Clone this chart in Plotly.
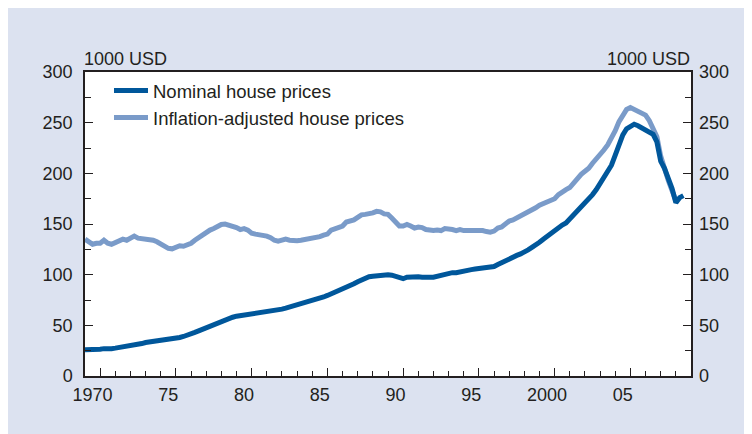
import plotly.graph_objects as go

# ---- data (quarterly, 1000 USD) ----
years = list(range(1970, 2010))
quarter_offsets = [0.0, 0.25, 0.5, 0.75]

nominal = [
    26, 26, 25.5, 26,          # 1970
    26.5, 27, 26.5, 27,        # 1971
    27.5, 28, 28.5, 29,        # 1972
    30, 30.5, 31.5, 32,        # 1973
    33, 33.5, 34, 34.5,        # 1974
    35, 35.5, 35.5, 36.5,      # 1975
    37.5, 38, 39, 40,          # 1976
    41.5, 43, 44.5, 46,        # 1977
    47.5, 49.5, 51, 53,        # 1978
    54.5, 55.5, 57, 58,        # 1979
    59, 59.5, 60.5, 61,        # 1980
    62, 62.5, 63, 63,          # 1981
    63.5, 64, 64.5, 65.5,      # 1982
    66, 67, 68, 69,            # 1983
    70, 71, 72, 73,            # 1984
    74, 75.5, 76.5, 78,        # 1985
    79.5, 81, 83, 85,          # 1986
    86, 87.5, 89.5, 91,        # 1987
    93, 95, 96.5, 98,          # 1988
    98.5, 99, 99.5, 99.5,      # 1989
    100, 99.5, 98, 96.5,       # 1990
    96, 97.5, 98, 98,          # 1991
    98, 97.5, 98, 97.5,        # 1992
    97.5, 98.5, 99.5, 100.5,   # 1993
    101.5, 102, 102, 103,      # 1994
    103, 104, 105, 105.5,      # 1995
    105.5, 106.5, 107, 107.5,  # 1996
    108, 110, 112, 113,        # 1997
    115, 117, 119, 120.5,      # 1998
    122, 124.5, 127, 129,      # 1999
    132, 135, 138, 140,        # 2000
    143, 146, 149, 151,        # 2001
    155, 159, 163, 167,        # 2002
    170, 174, 179, 184,        # 2003
    190, 196, 202, 208,        # 2004
    218, 229, 238, 244,        # 2005
    247, 248.5, 247, 245,      # 2006
    243.5, 241, 238.5, 231,    # 2007
    212, 205, 196, 185,        # 2008
    171, 176, 178,             # 2009
]

inflation_adjusted = [
    135, 133, 130, 131,        # 1970
    131, 134, 131, 130,        # 1971
    131.5, 133, 135, 134,      # 1972
    136, 138, 136, 135.5,      # 1973
    135.5, 135, 134, 132.5,    # 1974
    130.5, 128, 126, 125.5,    # 1975
    127, 128.5, 128, 129,      # 1976
    131, 134, 136.5, 139.5,    # 1977
    141.5, 144, 145.5, 147.5,  # 1978
    149.5, 150, 149, 148,      # 1979
    146.5, 144.5, 145.5, 144,  # 1980
    141, 140, 139.5, 138.5,    # 1981
    138, 136.5, 134, 133,      # 1982
    134.5, 135, 134, 133.5,    # 1983
    133.5, 134, 134.5, 135,    # 1984
    135.5, 136.5, 137.5, 139,  # 1985
    140, 144, 145.5, 147,      # 1986
    148, 152, 153, 154,        # 1987
    156.5, 159, 159.5, 160,    # 1988
    161, 162.5, 162, 160,      # 1989
    159.5, 156, 152, 148,      # 1990
    148, 149.5, 148, 146,      # 1991
    147, 146.5, 144.5, 143.5,  # 1992
    143.5, 144, 143.5, 145.5,  # 1993
    145.5, 144.5, 143.5, 144.5,  # 1994
    143.5, 143.5, 144.5, 144,  # 1995
    144, 143.5, 142.5, 142,    # 1996
    143, 146, 147, 150,        # 1997
    153, 154, 156, 157.5,      # 1998
    159, 162, 163, 166,        # 1999
    168.5, 170, 172, 173.5,    # 2000
    175, 179, 182, 184,        # 2001
    186, 191, 195, 199,        # 2002
    202, 205, 210, 214,        # 2003
    218, 223, 228, 234,        # 2004
    242, 251, 258, 263,        # 2005
    265, 263, 261.5, 259,      # 2006
    257.5, 252, 244, 236,      # 2007
    217, 204, 193, 183,        # 2008
    173,                       # 2009
]

quarters = [y + q for y in years for q in quarter_offsets]

y_tick_values = [0, 50, 100, 150, 200, 250, 300]
x_label_positions = [1970.5, 1975.5, 1980.5, 1985.5, 1990.5, 1995.5, 2000.5, 2005.5]
x_label_text = ["1970", "75", "80", "85", "90", "95", "2000", "05"]
x_major_ticks = [1971, 1976, 1981, 1986, 1991, 1996, 2001, 2006]
x_minor_ticks = list(range(1971, 2010))
unit_label = "1000 USD"

# ---- styles ----
FONT = "Liberation Sans, Arial, sans-serif"
TXT = "#231f20"
AX = "#231f20"
PANEL = "#dce2f0"
DARK = "#00579b"
LIGHT = "#7a9bc9"
FS = 18

axis_font = dict(family=FONT, size=FS, color=TXT)

fig = go.Figure()
fig.add_trace(go.Scatter(
    x=quarters[:len(inflation_adjusted)], y=inflation_adjusted, mode="lines",
    name="Inflation-adjusted house prices", legendgroup="b", legendrank=2,
    line=dict(color=LIGHT, width=5)))
fig.add_trace(go.Scatter(
    x=quarters[:len(nominal)], y=nominal, mode="lines",
    name="Nominal house prices", legendgroup="a", legendrank=1,
    line=dict(color=DARK, width=5)))
# helper invisible traces for secondary axes
fig.add_trace(go.Scatter(x=[1970], y=[0], xaxis="x2", yaxis="y", mode="markers",
                         marker=dict(opacity=0), showlegend=False, hoverinfo="skip"))
fig.add_trace(go.Scatter(x=[1970], y=[0], xaxis="x", yaxis="y2", mode="markers",
                         marker=dict(opacity=0), showlegend=False, hoverinfo="skip"))

fig.update_layout(
    width=744, height=426,
    margin=dict(l=77, r=61, t=64, b=58),
    paper_bgcolor=PANEL, plot_bgcolor="white",
    font=dict(family=FONT, color=TXT, size=FS),
    showlegend=True,
    legend=dict(x=0.0396, y=1.0, xanchor="left", yanchor="top",
                bgcolor="rgba(0,0,0,0)", font=dict(family=FONT, size=18.5, color=TXT),
                traceorder="grouped", tracegroupgap=0, itemwidth=34),
    xaxis=dict(range=[1970, 2010], showgrid=False, zeroline=False,
               showline=True, linecolor=AX, linewidth=1.5, mirror=True,
               tickmode="array", tickvals=x_major_ticks, ticks="inside",
               ticklen=8, tickwidth=1.3, tickcolor=AX, showticklabels=False,
               minor=dict(tickmode="array", tickvals=x_minor_ticks, ticks="inside",
                          ticklen=5, tickwidth=1.3, tickcolor=AX)),
    xaxis2=dict(overlaying="x", matches="x", anchor="y", side="bottom",
                range=[1970, 2010], showgrid=False, zeroline=False, showline=False,
                tickmode="array", tickvals=x_label_positions, ticktext=x_label_text,
                ticks="", tickfont=axis_font, ticklabelstandoff=6),
    yaxis=dict(range=[0, 300], showgrid=False, zeroline=False,
               showline=True, linecolor=AX, linewidth=1.5, mirror=True,
               tickmode="array", tickvals=y_tick_values, ticks="inside",
               ticklen=8, tickwidth=1.3, tickcolor=AX, tickfont=axis_font,
               ticklabelstandoff=7,
               minor=dict(dtick=25, tick0=0, ticks="inside", ticklen=6,
                          tickwidth=1.3, tickcolor=AX)),
    yaxis2=dict(overlaying="y", matches="y", anchor="x", side="right",
                range=[0, 300], showgrid=False, zeroline=False, showline=False,
                tickmode="array", tickvals=y_tick_values, ticks="inside",
                ticklen=8, tickwidth=1.3, tickcolor=AX, tickfont=axis_font,
                ticklabelstandoff=7,
                minor=dict(dtick=25, tick0=0, ticks="inside", ticklen=6,
                           tickwidth=1.3, tickcolor=AX)),
    annotations=[
        dict(text=unit_label, xref="paper", yref="paper", x=0, y=1,
             xanchor="left", yanchor="bottom", showarrow=False, yshift=1, xshift=-3,
             font=axis_font),
        dict(text=unit_label, xref="paper", yref="paper", x=1, y=1,
             xanchor="right", yanchor="bottom", showarrow=False, yshift=1, xshift=1,
             font=axis_font),
    ],
)

fig.write_html("out.html")
